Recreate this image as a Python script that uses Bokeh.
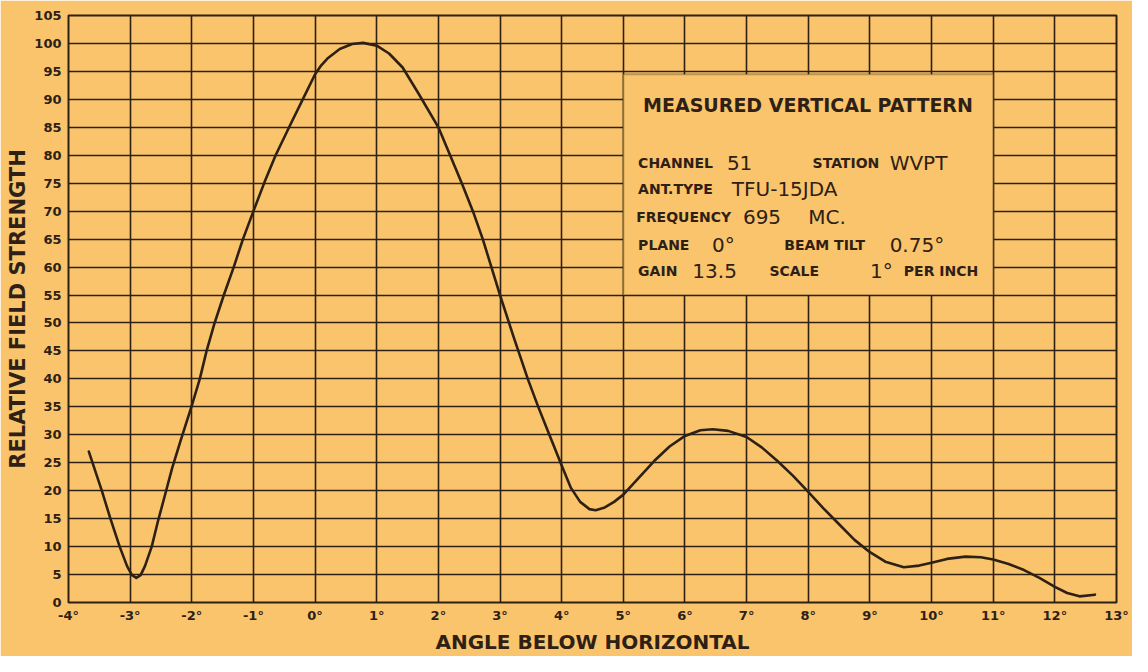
from bokeh.plotting import figure
from bokeh.models import FixedTicker, Label, BoxAnnotation, Range1d
from bokeh.embed import file_html
from bokeh.resources import INLINE

# ---- data ----
angle = [-3.67, -3.46, -3.32, -3.17, -3.05, -2.97, -2.9, -2.83, -2.76, -2.65, -2.55, -2.44,
         -2.32, -2.18, -2.0, -1.87, -1.76, -1.63, -1.48, -1.32, -1.17, -1.0, -0.82, -0.64,
         -0.4, -0.2, 0.0, 0.1, 0.2, 0.4, 0.6, 0.78, 1.0, 1.2, 1.42, 1.68, 2.0, 2.19, 2.38,
         2.56, 2.72, 2.86, 3.0, 3.22, 3.45, 3.62, 3.8, 4.0, 4.15, 4.3, 4.45, 4.55, 4.7,
         4.85, 5.0, 5.25, 5.5, 5.75, 6.0, 6.25, 6.45, 6.7, 7.0, 7.25, 7.5, 7.75, 8.0,
         8.25, 8.5, 8.75, 9.0, 9.25, 9.55, 9.8, 10.0, 10.25, 10.55, 10.8, 11.0, 11.25,
         11.5, 11.75, 12.0, 12.2, 12.4, 12.65]
field = [27.0, 20.0, 15.0, 10.0, 6.5, 4.9, 4.4, 4.9, 6.5, 10.0, 14.5, 19.0,
         24.0, 29.0, 35.2, 40.0, 45.0, 50.0, 55.0, 60.0, 65.0, 70.0, 75.2, 80.0,
         85.5, 90.0, 94.5, 96.1, 97.3, 99.0, 99.9, 100.1, 99.6, 98.2, 95.7, 91.0, 85.0, 80.0, 75.0,
         70.0, 65.0, 60.0, 55.0, 47.5, 40.0, 35.0, 30.0, 24.5, 20.5, 18.0, 16.7, 16.5, 17.0,
         18.0, 19.3, 22.3, 25.3, 27.9, 29.8, 30.8, 31.0, 30.7, 29.6, 27.7, 25.3, 22.7, 19.8,
         16.8, 14.0, 11.2, 9.0, 7.3, 6.3, 6.6, 7.1, 7.8, 8.2, 8.1, 7.7, 6.9,
         5.8, 4.4, 2.8, 1.7, 1.1, 1.4]

x_ticks = list(range(-4, 14))
y_ticks = list(range(0, 106, 5))
x_tick_labels = {t: f"{t}°" for t in x_ticks}

title_text = "MEASURED VERTICAL PATTERN"
info_small = ["CHANNEL", "STATION", "ANT.TYPE", "FREQUENCY", "PLANE", "BEAM TILT", "GAIN", "SCALE", "PER INCH"]
info_big = ["51", "WVPT", "TFU-15JDA", "695", "MC.", "0°", "0.75°", "13.5", "1°"]

# ---- style ----
BG = "#F9C46B"
INK = "#2e2015"
FONT = "DejaVu Sans"

p = figure(width=1132, height=656, output_backend="svg", toolbar_location=None,
           x_range=Range1d(-4, 13), y_range=Range1d(0, 105),
           min_border_left=68, min_border_right=16, min_border_top=15, min_border_bottom=54)
p.background_fill_color = BG
p.border_fill_color = BG
p.outline_line_color = INK
p.outline_line_width = 2

p.xaxis.ticker = FixedTicker(ticks=x_ticks)
p.yaxis.ticker = FixedTicker(ticks=y_ticks)
p.xaxis.major_label_overrides = x_tick_labels
for ax in (p.xaxis, p.yaxis):
    ax.axis_line_color = None
    ax.major_tick_line_color = None
    ax.minor_tick_line_color = None
    ax.major_tick_out = 0
    ax.major_tick_in = 0
    ax.minor_tick_out = 0
    ax.minor_tick_in = 0
    ax.major_label_text_color = INK
    ax.major_label_text_font = FONT
    ax.major_label_text_font_style = "bold"
    ax.major_label_text_font_size = "13px"
    ax.axis_label_text_color = INK
    ax.axis_label_text_font = FONT
    ax.axis_label_text_font_style = "bold"
p.xaxis.axis_label = "ANGLE BELOW HORIZONTAL"
p.yaxis.axis_label = "RELATIVE FIELD STRENGTH"
p.xaxis.axis_label_text_font_size = "20px"
p.yaxis.axis_label_text_font_size = "21px"
p.xaxis.major_label_standoff = 5
p.yaxis.major_label_standoff = 7
p.xaxis.axis_label_standoff = 4
p.yaxis.axis_label_standoff = 1

p.xgrid.ticker = FixedTicker(ticks=x_ticks)
p.ygrid.ticker = FixedTicker(ticks=y_ticks)
for g in (p.xgrid, p.ygrid):
    g.grid_line_color = INK
    g.grid_line_width = 1.6
    g.grid_line_alpha = 1.0

# legend box covering the grid
box = BoxAnnotation(left=5, right=11, bottom=55, top=94.5, fill_color=BG, fill_alpha=1.0,
                    line_color=INK, line_width=2, level="underlay")
p.add_layout(box)

p.line(angle, field, line_color=INK, line_width=2.6, line_join="round", line_cap="round")

def lab(x, y, t, size, bold=True):
    p.add_layout(Label(x=x, y=y, text=t, text_font=FONT, text_font_size=size,
                       text_font_style="bold" if bold else "normal", text_color=INK,
                       text_baseline="middle", text_align="left"))

lab(5.32, 89.0, title_text, "19px")
rows_y = [78.55, 73.9, 68.95, 64.0, 59.36]
SMALL = "14px"
BIG = "20px"
# small labels
lab(5.24, rows_y[0], info_small[0], SMALL)
lab(8.07, rows_y[0], info_small[1], SMALL)
lab(5.24, rows_y[1], info_small[2], SMALL)
lab(5.21, rows_y[2], info_small[3], SMALL)
lab(5.24, rows_y[3], info_small[4], SMALL)
lab(7.61, rows_y[3], info_small[5], SMALL)
lab(5.24, rows_y[4], info_small[6], SMALL)
lab(7.37, rows_y[4], info_small[7], SMALL)
lab(9.55, rows_y[4], info_small[8], SMALL)
# big values
lab(6.68, rows_y[0], info_big[0], BIG, False)
lab(9.32, rows_y[0], info_big[1], BIG, False)
lab(6.76, rows_y[1], info_big[2], BIG, False)
lab(6.94, rows_y[2], info_big[3], BIG, False)
lab(8.0, rows_y[2], info_big[4], BIG, False)
lab(6.44, rows_y[3], info_big[5], BIG, False)
lab(9.32, rows_y[3], info_big[6], BIG, False)
lab(6.12, rows_y[4], info_big[7], BIG, False)
lab(9.0, rows_y[4], info_big[8], BIG, False)

html = file_html(p, INLINE)
html = html.replace("<body>", f'<body style="background-color:{BG};">', 1)
open("out.html", "w").write(html)
